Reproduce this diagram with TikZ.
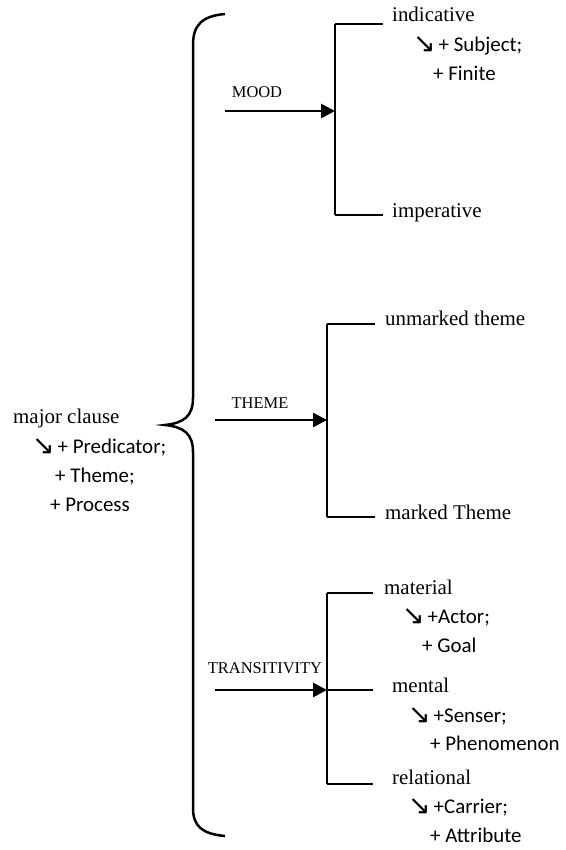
\documentclass[tikz,border=0pt]{standalone}
\usepackage{fontspec}
\setmainfont{Liberation Serif}
\newfontfamily\calfont{Carlito}
\newfontfamily\dvfont{DejaVu Sans}
\usetikzlibrary{arrows.meta}
\newcommand{\sarr}{\raisebox{-1.5bp}{\dvfont\fontsize{27}{30}\selectfont ↘}\kern3bp}
\tikzset{
  ser/.style={font=\fontsize{21}{25}\selectfont, inner sep=0pt, anchor=mid west},
  sml/.style={font=\fontsize{16.5}{20}\selectfont, inner sep=0pt},
  sns/.style={font=\calfont\fontsize{21}{25}\selectfont, inner sep=0pt, anchor=mid west},
  ln/.style={line width=2.8bp},
  feat/.style={line width=2.8bp, -{Triangle[length=14bp,width=14bp]}},
}
\begin{document}
\begin{tikzpicture}[x=1bp,y=-1bp]
\useasboundingbox (0,0) rectangle (566,850);
% brace
\draw[line width=2.5bp] (225,14) .. controls (202,16) and (193,25) .. (193,45) -- (193,398)
  .. controls (193,416) and (184,423) .. (165,425)
  .. controls (184,427) and (193,434) .. (193,452) -- (193,808)
  .. controls (193,826) and (202,834) .. (225,836);
% major clause
\node[ser] (major) at (13,421) {major clause};
\node[sns] (mc1) at (32,451) {\sarr + Predicator;};
\node[sns] (mc2) at (55,480) {+ Theme;};
\node[sns] (mc3) at (50,509) {+ Process};
% MOOD
\coordinate (ms) at (225,111);
\coordinate (mt) at (335,24);
\coordinate (mm) at (335,111);
\coordinate (mb) at (335,215);
\node[ser] (ind) at (392,19) {indicative};
\node[sns] (ind1) at (413,49) {\sarr + Subject;};
\node[sns] (ind2) at (433,78) {+ Finite};
\node[ser] (imp) at (392,215) {imperative};
\node[sml] (moodl) at (257,92) {MOOD};
\draw[ln] (mt) -- (mb);
\draw[ln] (mt) -- (383,24);
\draw[ln] (mb) -- (383,215);
\draw[feat] (ms) -- (mm);
% THEME
\coordinate (ts) at (215,420);
\coordinate (tt) at (327,324);
\coordinate (tm) at (327,420);
\coordinate (tb) at (327,517);
\node[ser] (unm) at (385,323) {unmarked theme};
\node[ser] (mkd) at (385,517) {marked Theme};
\node[sml] (themel) at (260,403) {THEME};
\draw[ln] (tt) -- (tb);
\draw[ln] (tt) -- (375,324);
\draw[ln] (tb) -- (375,517);
\draw[feat] (ts) -- (tm);
% TRANSITIVITY
\coordinate (rs) at (215,690);
\coordinate (rt) at (327,593);
\coordinate (rm) at (327,690);
\coordinate (rb) at (327,784);
\node[ser] (mat) at (384,592) {material};
\node[sns] (mat1) at (402,621) {\sarr +Actor;};
\node[sns] (mat2) at (422,650) {+ Goal};
\node[ser] (men) at (392,690) {mental};
\node[sns] (men1) at (408,720) {\sarr +Senser;};
\node[sns] (men2) at (430,748) {+ Phenomenon};
\node[ser] (rel) at (392,782) {relational};
\node[sns] (rel1) at (408,811) {\sarr +Carrier;};
\node[sns] (rel2) at (430,840) {+ Attribute};
\node[sml] (transl) at (265,668) {TRANSITIVITY};
\draw[ln] (rt) -- (rb);
\draw[ln] (rt) -- (373,593);
\draw[ln] (rm) -- (373,690);
\draw[ln] (rb) -- (373,784);
\draw[feat] (rs) -- (rm);
\end{tikzpicture}
\end{document}
